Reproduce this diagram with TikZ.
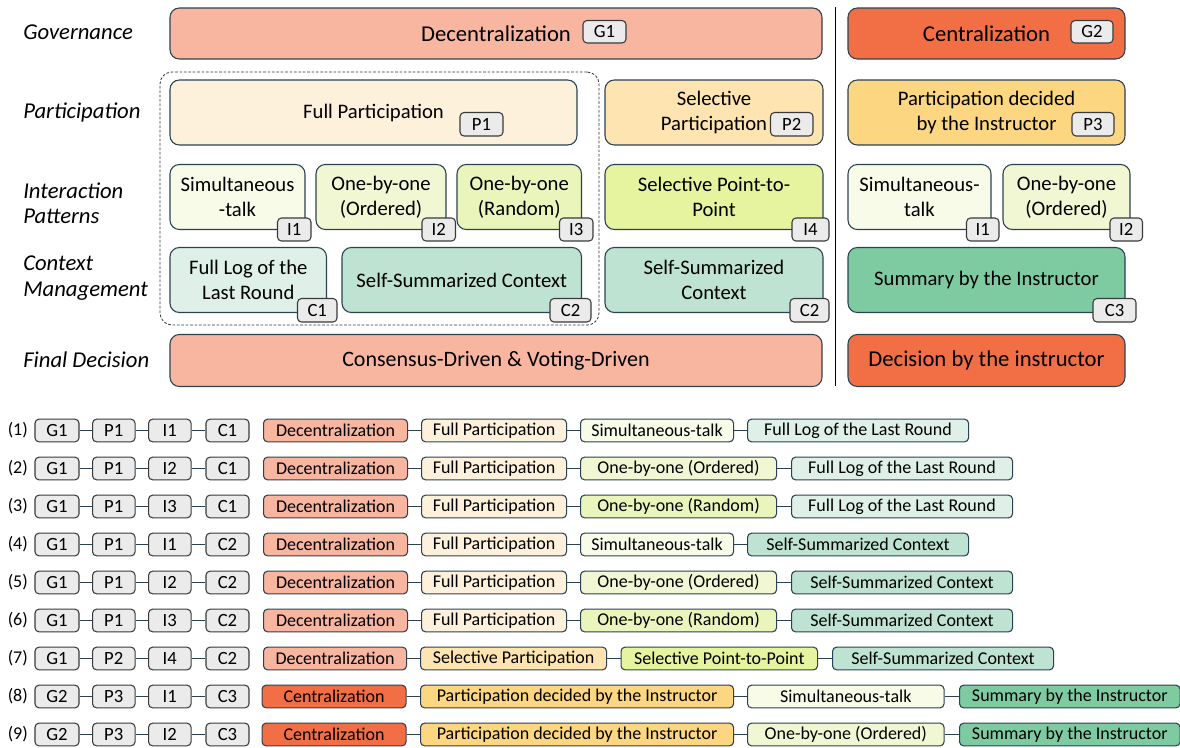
\documentclass[tikz,border=0pt]{standalone}
\usepackage{fontspec}
\setmainfont{Carlito}
\definecolor{bord}{HTML}{2C4250}
\definecolor{salmon}{HTML}{F8B5A0}
\definecolor{orng}{HTML}{F26E45}
\definecolor{pone}{HTML}{FDF1DC}
\definecolor{ptwo}{HTML}{FDE4B0}
\definecolor{pthree}{HTML}{FCD680}
\definecolor{ione}{HTML}{F7FBE7}
\definecolor{itwo}{HTML}{F0F7D2}
\definecolor{ithree}{HTML}{E9F5BA}
\definecolor{ifour}{HTML}{E6F4A0}
\definecolor{cone}{HTML}{DEF0E8}
\definecolor{ctwo}{HTML}{BEE3D3}
\definecolor{cthree}{HTML}{7ECBA2}
\definecolor{badgefill}{HTML}{EBEBEB}
\definecolor{badgebord}{HTML}{3A3A3A}
\tikzset{
  card/.style={draw=bord, line width=0.8pt, rounded corners=7pt, inner sep=0pt, align=center,
    font=\fontsize{15.5pt}{18.5pt}\selectfont},
  bigtext/.style={font=\fontsize{17pt}{20pt}\selectfont},
  badge/.style={draw=badgebord, fill=badgefill, line width=0.8pt, rounded corners=3pt, inner sep=0pt,
    font=\fontsize{14pt}{16pt}\selectfont},
  rcard/.style={draw=bord, line width=0.8pt, rounded corners=3pt, inner sep=0pt, minimum height=17pt,
    font=\fontsize{13.5pt}{16pt}\selectfont},
  rbadge/.style={draw=badgebord, fill=badgefill, line width=0.8pt, rounded corners=3pt, inner sep=0pt,
    minimum height=17pt, font=\fontsize{14pt}{16pt}\selectfont},
  rowlab/.style={anchor=west, align=left, inner sep=0pt, font=\fontsize{17pt}{19pt}\selectfont\itshape},
  numlab/.style={anchor=west, inner sep=0pt, font=\fontsize{13.5pt}{15pt}\selectfont},
  conn/.style={draw=bord, line width=0.9pt},
  grp/.style={draw=black!80, line width=0.6pt, dash pattern=on 2pt off 1.3pt, rounded corners=9pt, inner sep=0pt},
}
% card: [style]{name}{x1}{y1}{x2}{y2}{fill}{text}
\newcommand\mycard[8][]{\node[card,#1,fill=#7,minimum width={(#5-#3)*0.75pt},minimum height={(#6-#4)*0.75pt}] (#2) at ({(#3+#5)/2},{(#4+#6)/2}) {#8};}
\newcommand\mybadge[6]{\node[badge,minimum width={(#4-#2)*0.75pt},minimum height={(#5-#3)*0.75pt}] (#1) at ({(#2+#4)/2},{(#3+#5)/2}) {#6};}
% row card: {name}{x1}{x2}{y}{fill}{text}
\newcommand\rc[6]{\node[rcard,fill=#5,minimum width={(#3-#2)*0.75pt},anchor=west] (#1) at (#2,#4) {#6};}
\begin{document}
\begin{tikzpicture}[x=0.75pt,y=-0.75pt]
\useasboundingbox (0,0) rectangle (1180,747);
% row labels
\node[rowlab] (lgov) at (23,32) {Governance};
\node[rowlab] (lpar) at (23,112) {Participation};
\node[rowlab] (lint) at (23,203.5) {Interaction\\Patterns};
\node[rowlab] (lctx) at (23,278) {Context\\Management};
\node[rowlab] (lfin) at (23,360) {Final Decision};
% dashed group
\node[grp,minimum width={439*0.75pt},minimum height={253*0.75pt}] (grp) at (379.5,198.5) {};
% separator
\coordinate (septop) at (835.5,7);
\coordinate (sepbot) at (835.5,386);
\draw[line width=1pt] (septop) -- (sepbot);
% governance
\mycard[bigtext]{dec}{170}{8}{822}{59}{salmon}{Decentralization}
\mycard[bigtext]{cen}{848}{8}{1125}{59}{orng}{Centralization}
\mybadge{bG1}{583}{20.5}{626}{43}{G1}
\mybadge{bG2}{1071}{20.5}{1113}{43}{G2}
% participation
\mycard{fp}{170}{80}{577}{145}{pone}{Full Participation}
\mycard{sp}{605}{80}{823}{145}{ptwo}{Selective\\Participation}
\mycard{pd}{848}{80}{1125}{145}{pthree}{Participation decided\\by the Instructor}
\mybadge{bP1}{460}{112.5}{503}{136}{P1}
\mybadge{bP2}{770.5}{112.5}{813}{136}{P2}
\mybadge{bP3}{1072}{112.5}{1114}{136}{P3}
% interaction
\mycard{ia}{170}{164.5}{305}{229.5}{ione}{Simultaneous\\-talk}
\mycard{ib}{316}{164.5}{446}{229.5}{itwo}{One-by-one\\(Ordered)}
\mycard{ic}{457}{164.5}{581.5}{229.5}{ithree}{One-by-one\\(Random)}
\mycard{id}{605}{164.5}{823}{229.5}{ifour}{Selective Point-to-\\Point}
\mycard{ie}{848}{164.5}{991}{229.5}{ione}{Simultaneous-\\talk}
\mycard{ig}{1003}{164.5}{1130}{229.5}{itwo}{One-by-one\\(Ordered)}
\mybadge{bIa}{277.5}{218}{311}{241}{I1}
\mybadge{bIb}{422}{218}{455.5}{241}{I2}
\mybadge{bIc}{559.5}{218}{593}{241}{I3}
\mybadge{bId}{792}{218}{829}{241}{I4}
\mybadge{bIe}{966.5}{218}{999}{241}{I1}
\mybadge{bIg}{1110}{218}{1142.5}{241}{I2}
% context
\mycard{ca}{170}{247.5}{326.5}{312.5}{cone}{Full Log of the\\Last Round}
\mycard{cb}{342}{247.5}{581.5}{312.5}{ctwo}{Self-Summarized Context}
\mycard{cc}{605}{247.5}{823}{312.5}{ctwo}{Self-Summarized\\Context}
\mycard{cd}{848}{247.5}{1125}{312.5}{cthree}{Summary by the Instructor}
\mybadge{bCa}{297.5}{298.5}{337}{322}{C1}
\mybadge{bCb}{550}{298.5}{591}{322}{C2}
\mybadge{bCc}{790}{298.5}{829}{322}{C2}
\mybadge{bCd}{1093}{298.5}{1136}{322}{C3}
% final decision
\mycard{fa}{170}{334.5}{822}{386.5}{salmon}{\fontsize{16.5pt}{19pt}\selectfont Consensus-Driven \& Voting-Driven}
\mycard[bigtext]{fb}{848}{334.5}{1125}{386.5}{orng}{Decision by the instructor}
% bottom rows: numbers and code badges
\foreach \k/\g/\p/\i/\c in {1/G1/P1/I1/C1,2/G1/P1/I2/C1,3/G1/P1/I3/C1,4/G1/P1/I1/C2,5/G1/P1/I2/C2,6/G1/P1/I3/C2,7/G1/P2/I4/C2,8/G2/P3/I1/C3,9/G2/P3/I2/C3}{
  \pgfmathsetmacro\yy{430.5+38*(\k-1)}
  \node[numlab] (n\k) at (7.5,\yy) {(\k)};
  \node[rbadge,minimum width={44*0.75pt}] (g\k) at (57,\yy) {\g};
  \node[rbadge,minimum width={42.5*0.75pt}] (p\k) at (113.8,\yy) {\p};
  \node[rbadge,minimum width={42.5*0.75pt}] (i\k) at (169.8,\yy) {\i};
  \node[rbadge,minimum width={43*0.75pt}] (c\k) at (227.5,\yy) {\c};
  \draw[conn] (g\k.east) -- (p\k.west);
  \draw[conn] (p\k.east) -- (i\k.west);
  \draw[conn] (i\k.east) -- (c\k.west);
}
% row 1
\rc{ra1}{263}{407}{430.5}{salmon}{Decentralization}
\rc{rb1}{421}{566}{430.5}{pone}{Full Participation}
\rc{rc1}{580}{733}{430.5}{ione}{Simultaneous-talk}
\rc{rd1}{747}{968}{430.5}{cone}{Full Log of the Last Round}
% row 2
\rc{ra2}{263}{407}{468.5}{salmon}{Decentralization}
\rc{rb2}{421}{566}{468.5}{pone}{Full Participation}
\rc{rc2}{580}{776}{468.5}{itwo}{One-by-one (Ordered)}
\rc{rd2}{791}{1012}{468.5}{cone}{Full Log of the Last Round}
% row 3
\rc{ra3}{263}{407}{506.5}{salmon}{Decentralization}
\rc{rb3}{421}{566}{506.5}{pone}{Full Participation}
\rc{rc3}{580}{776}{506.5}{ithree}{One-by-one (Random)}
\rc{rd3}{791}{1012}{506.5}{cone}{Full Log of the Last Round}
% row 4
\rc{ra4}{263}{407}{544.5}{salmon}{Decentralization}
\rc{rb4}{421}{566}{544.5}{pone}{Full Participation}
\rc{rc4}{580}{733}{544.5}{ione}{Simultaneous-talk}
\rc{rd4}{747}{968}{544.5}{ctwo}{Self-Summarized Context}
% row 5
\rc{ra5}{263}{407}{582.5}{salmon}{Decentralization}
\rc{rb5}{421}{566}{582.5}{pone}{Full Participation}
\rc{rc5}{580}{776}{582.5}{itwo}{One-by-one (Ordered)}
\rc{rd5}{791}{1012}{582.5}{ctwo}{Self-Summarized Context}
% row 6
\rc{ra6}{263}{407}{620.5}{salmon}{Decentralization}
\rc{rb6}{421}{566}{620.5}{pone}{Full Participation}
\rc{rc6}{580}{776}{620.5}{ithree}{One-by-one (Random)}
\rc{rd6}{791}{1012}{620.5}{ctwo}{Self-Summarized Context}
% row 7
\rc{ra7}{263}{406}{658.5}{salmon}{Decentralization}
\rc{rb7}{420}{606}{658.5}{ptwo}{Selective Participation}
\rc{rc7}{620.5}{817}{658.5}{ifour}{Selective Point-to-Point}
\rc{rd7}{832}{1053}{658.5}{ctwo}{Self-Summarized Context}
% row 8
\rc{ra8}{261.5}{405.5}{696.5}{orng}{Centralization}
\rc{rb8}{420}{733}{696.5}{pthree}{Participation decided by the Instructor}
\rc{rc8}{747}{943.5}{696.5}{ione}{Simultaneous-talk}
\rc{rd8}{959}{1179.5}{696.5}{cthree}{Summary by the Instructor}
% row 9
\rc{ra9}{261.5}{405.5}{734.5}{orng}{Centralization}
\rc{rb9}{420}{733}{734.5}{pthree}{Participation decided by the Instructor}
\rc{rc9}{747}{943.5}{734.5}{itwo}{One-by-one (Ordered)}
\rc{rd9}{959}{1179.5}{734.5}{cthree}{Summary by the Instructor}
% row connectors
\foreach \k in {1,...,9}{
  \draw[conn] (ra\k.east) -- (rb\k.west);
  \draw[conn] (rb\k.east) -- (rc\k.west);
  \draw[conn] (rc\k.east) -- (rd\k.west);
}
\end{tikzpicture}
\end{document}
